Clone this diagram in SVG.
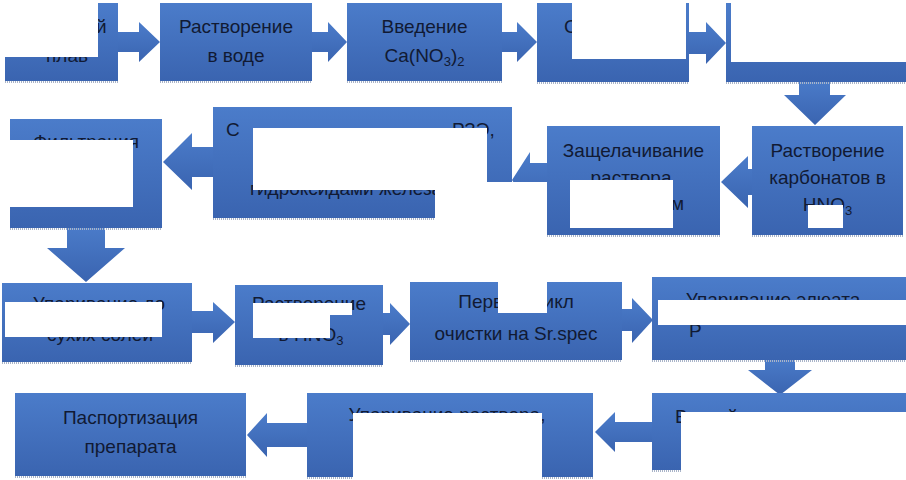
<svg xmlns="http://www.w3.org/2000/svg" width="906" height="480" viewBox="0 0 906 480">
<defs>
<linearGradient id="gb" x1="0" y1="0" x2="0" y2="1">
<stop offset="0" stop-color="#4b7cca"/>
<stop offset="1" stop-color="#3a64b0"/>
</linearGradient>
<style>
.box{fill:url(#gb)}
.arr{fill:url(#gb)}
.sh{stroke:#a9b4c8;stroke-width:2;stroke-dasharray:1 1;fill:none}
.t{font-family:"Liberation Sans",Arial,sans-serif;font-size:19px;fill:#111a33}
.m{text-anchor:middle}
.hole{fill:#ffffff}
</style>
</defs>
<rect width="906" height="480" fill="#ffffff"/>
<g id="connectors">
<polygon class="arr" points="115,32 139,32 139,22 160,42 139,62 139,52 115,52"/>
<polygon class="arr" points="309,32 328,32 328,22 347,42 328,62 328,52 309,52"/>
<polygon class="arr" points="499,32 517,32 517,22 537,42 517,62 517,52 499,52"/>
<polygon class="arr" points="686,32 706,32 706,22 726,43 706,64 706,54 686,54"/>
<polygon class="arr" points="799,79 830,79 830,95 846,95 815,125 784,95 799,95"/>
<polygon class="arr" points="755,169 748,169 748,156 721,182 748,208 748,195 755,195"/>
<polygon class="arr" points="550,163 530,163 530,152 512,180 530,208 530,197 550,197"/>
<polygon class="arr" points="216,147 192,147 192,133 163,162 192,190 192,177 216,177"/>
<polygon class="arr" points="67,225 105,225 105,248 125,248 86,282 47,248 67,248"/>
<polygon class="arr" points="189,311 213,311 213,302 235,322 213,343 213,333 189,333"/>
<polygon class="arr" points="380,313 390,313 390,303 410,324 390,345 390,335 380,335"/>
<polygon class="arr" points="619,309 632,309 632,298 653,320 632,343 632,331 619,331"/>
<polygon class="arr" points="765,357 795,357 795,370 812,370 780,395 748,370 765,370"/>
<polygon class="arr" points="655,422 615,422 615,412 595,432 615,452 615,442 655,442"/>
<polygon class="arr" points="310,423 267,423 267,413 247,435 267,457 267,447 310,447"/>
</g>
<g id="n1"><rect class="box" x="5" y="3" width="113" height="78"/><line class="sh" x1="5" y1="82" x2="118" y2="82"/>
<text class="t" x="96" y="33">й</text><text class="t" x="46" y="62">плав</text></g>
<g id="n2"><rect class="box" x="160" y="3" width="152" height="78"/><line class="sh" x1="160" y1="82" x2="312" y2="82"/>
<text class="t m" x="236" y="33">Растворение</text><text class="t m" x="236" y="62">в воде</text></g>
<g id="n3"><rect class="box" x="347" y="3" width="155" height="78"/><line class="sh" x1="347" y1="82" x2="502" y2="82"/>
<text class="t m" x="424.5" y="33">Введение</text><text class="t m" x="424.5" y="62">Ca(NO<tspan font-size="13" dy="4">3</tspan><tspan dy="-4">)</tspan><tspan font-size="13" dy="4">2</tspan></text></g>
<g id="n4"><rect class="box" x="537" y="3" width="152" height="79"/><line class="sh" x1="537" y1="83" x2="689" y2="83"/>
<text class="t" x="564" y="33">С</text></g>
<g id="n5"><rect class="box" x="726" y="3" width="180" height="79"/><line class="sh" x1="726" y1="83" x2="906" y2="83"/></g>
<g id="n6"><rect class="box" x="752" y="126" width="151" height="109"/><line class="sh" x1="752" y1="236" x2="903" y2="236"/>
<text class="t m" x="827.5" y="157">Растворение</text><text class="t m" x="827.5" y="184">карбонатов в</text><text class="t m" x="827.5" y="211">HNO<tspan font-size="13" dy="4">3</tspan></text></g>
<g id="n7"><rect class="box" x="547" y="126" width="173" height="109"/><line class="sh" x1="547" y1="236" x2="720" y2="236"/>
<text class="t m" x="633.5" y="157">Защелачивание</text><text class="t m" x="631" y="184">раствора</text><text class="t" x="671" y="210">м</text></g>
<g id="n8"><rect class="box" x="213" y="107" width="299" height="111"/><line class="sh" x1="213" y1="219" x2="435" y2="219"/>
<text class="t" x="226" y="136">С</text><text class="t" x="452" y="136">РЗЭ,</text><text class="t" x="250" y="195" font-size="18">гидроксидами железа</text></g>
<g id="n9"><rect class="box" x="10" y="119" width="152" height="109"/><line class="sh" x1="10" y1="229" x2="162" y2="229"/>
<text class="t m" x="86" y="148">Фильтрация</text></g>
<g id="n10"><rect class="box" x="2" y="283" width="190" height="79"/><line class="sh" x1="2" y1="363" x2="192" y2="363"/>
<text class="t m" x="99" y="310">Упаривание до</text><text class="t m" x="100" y="341">сухих солей</text></g>
<g id="n11"><rect class="box" x="235" y="285" width="148" height="80"/><line class="sh" x1="235" y1="366" x2="383" y2="366"/>
<text class="t m" x="309" y="310">Растворение</text><text class="t m" x="311" y="341">в HNO<tspan font-size="13" dy="4">3</tspan></text></g>
<g id="n12"><rect class="box" x="410" y="282" width="212" height="78"/><line class="sh" x1="410" y1="361" x2="622" y2="361"/>
<text class="t m" x="516" y="308">Первый цикл</text><text class="t m" x="516" y="340">очистки на Sr.spec</text></g>
<g id="n13"><rect class="box" x="652" y="277" width="254" height="83"/><line class="sh" x1="652" y1="361" x2="906" y2="361"/>
<text class="t m" x="773" y="306">Упаривание элюата</text><text class="t" x="689" y="337">Р</text></g>
<g id="n14"><rect class="box" x="652" y="393" width="254" height="77"/><line class="sh" x1="652" y1="471" x2="681" y2="471"/>
<text class="t" x="675" y="423">Второй</text></g>
<g id="n15"><rect class="box" x="307" y="393" width="286" height="84"/><line class="sh" x1="307" y1="478" x2="353" y2="478"/><line class="sh" x1="542" y1="478" x2="593" y2="478"/>
<text class="t m" x="447" y="421">Упаривание раствора,</text></g>
<g id="n16"><rect class="box" x="15" y="393" width="231" height="83"/><line class="sh" x1="15" y1="477" x2="246" y2="477"/>
<text class="t m" x="130.5" y="424">Паспортизация</text><text class="t m" x="130.5" y="453">препарата</text></g>
<g id="gaps">
<rect class="hole" x="0" y="0" width="98" height="57"/>
<rect class="hole" x="572" y="0" width="114" height="59"/>
<rect class="hole" x="731" y="0" width="175" height="62"/>
<rect class="hole" x="808" y="205" width="35" height="23"/>
<rect class="hole" x="570" y="180" width="103" height="48"/>
<rect class="hole" x="253" y="128" width="234" height="62"/>
<rect class="hole" x="435" y="182" width="112" height="46"/>
<rect class="hole" x="6" y="140" width="127" height="67"/>
<rect class="hole" x="5" y="302" width="157" height="35"/>
<rect class="hole" x="253" y="303" width="99" height="12"/>
<rect class="hole" x="253" y="315" width="77" height="23"/>
<rect class="hole" x="498" y="260" width="49" height="53"/>
<rect class="hole" x="658" y="300" width="248" height="25"/>
<rect class="hole" x="681" y="412" width="225" height="68"/>
<rect class="hole" x="353" y="413" width="189" height="67"/>
</g>
</svg>
